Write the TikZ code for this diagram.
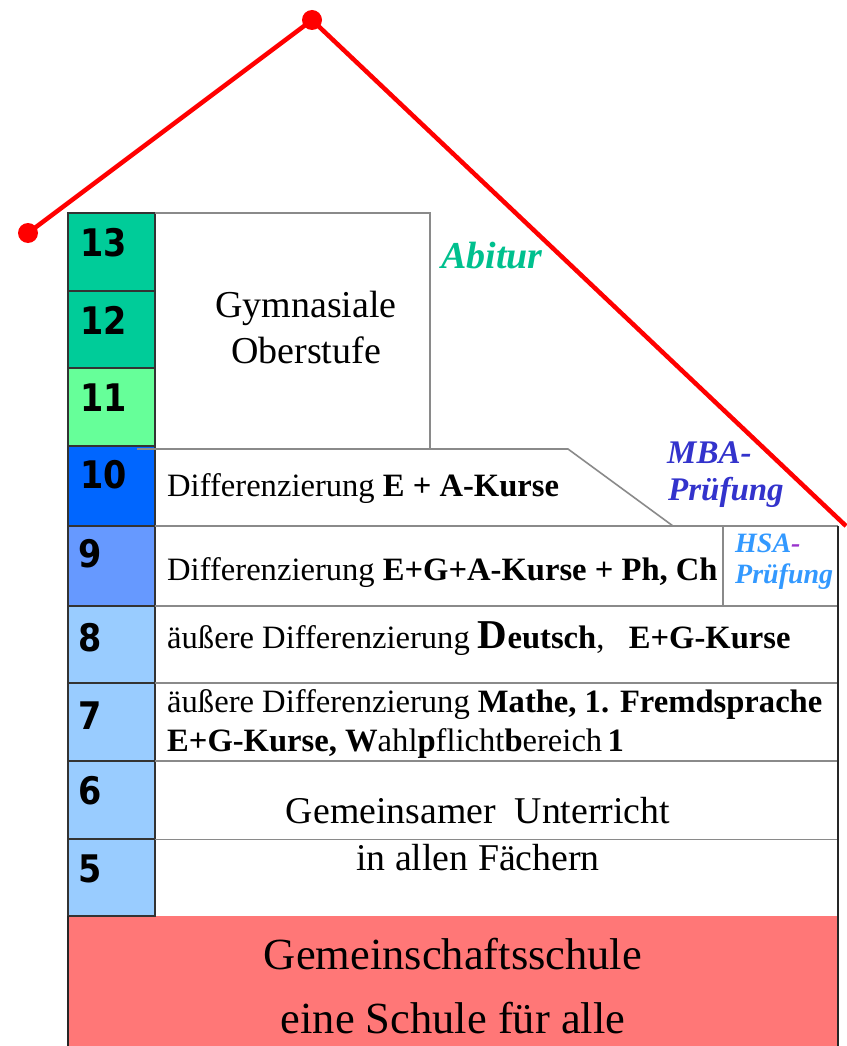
\documentclass[tikz,border=0pt]{standalone}
\usepackage{fontspec}
\setmainfont{Liberation Serif}
\newfontfamily\numfont[FakeStretch=0.88]{DejaVu Sans}
\definecolor{teal13}{HTML}{00CC99}
\definecolor{green11}{HTML}{66FF99}
\definecolor{blue10}{HTML}{0066FF}
\definecolor{blue9}{HTML}{6699FF}
\definecolor{blueL}{HTML}{99CCFF}
\definecolor{redbox}{HTML}{FF7777}
\definecolor{abiturc}{HTML}{00C08E}
\definecolor{mbac}{HTML}{3333CC}
\definecolor{hsac}{HTML}{3399FF}
\definecolor{hsadash}{HTML}{9933CC}
\definecolor{linegray}{HTML}{8A8A8A}
\definecolor{roofred}{HTML}{FF0000}
\begin{document}
\begin{tikzpicture}[x=1pt,y=-1pt,
  numcell/.style={draw=black!80,line width=2.5pt},
  grayline/.style={draw=linegray,line width=1.6pt},
  darkline/.style={draw=black!85,line width=2.8pt},
  num/.style={anchor=base west,inner sep=0pt,font=\numfont\bfseries\fontsize{38}{40}\selectfont},
  rowtext/.style={anchor=base west,inner sep=0pt,font=\fontsize{32.6}{38}\selectfont},
  bigtext/.style={inner sep=0pt,align=center},
  roof/.style={draw=roofred,line width=4.5pt},
  roofdot/.style={fill=roofred,circle,inner sep=0pt,minimum size=20pt}]
\useasboundingbox (0,0) rectangle (846,1046);
% bottom red box
\fill[redbox] (68,916) rectangle (838,1046);
% number column
\filldraw[numcell,fill=teal13] (68,213) rectangle (155,291);
\filldraw[numcell,fill=teal13] (68,291) rectangle (155,368);
\filldraw[numcell,fill=green11] (68,368) rectangle (155,446);
\filldraw[numcell,fill=blue10] (68,446) rectangle (155,526);
\filldraw[numcell,fill=blue9] (68,526) rectangle (155,606);
\filldraw[numcell,fill=blueL] (68,606) rectangle (155,683);
\filldraw[numcell,fill=blueL] (68,683) rectangle (155,761);
\filldraw[numcell,fill=blueL] (68,761) rectangle (155,839);
\filldraw[numcell,fill=blueL] (68,839) rectangle (155,916);
% gymnasiale box
\draw[grayline] (155,213) -- (430,213) -- (430,449);
% row 10 with slant
\draw[grayline] (137,449) -- (568,449) -- (673,526);
% rows
\draw[grayline] (155,526) -- (838,526);
\draw[grayline] (723,526) -- (723,606);
\draw[grayline] (155,606) -- (838,606);
\draw[grayline] (155,683) -- (838,683);
\draw[grayline] (155,761) -- (838,761);
\draw[grayline,line width=1pt] (155,839) -- (838,839);
% outer borders
\draw[darkline] (68,916) -- (68,1046);
\draw[darkline] (838,526) -- (838,1046);
% numbers
\node[num] (n13) at (80,256) {13};
\node[num] (n12) at (80,334) {12};
\node[num] (n11) at (80,411) {11};
\node[num] (n10) at (80,488) {10};
\node[num] (n9) at (78,567) {9};
\node[num] (n8) at (78,651) {8};
\node[num] (n7) at (78,729) {7};
\node[num] (n6) at (78,804) {6};
\node[num] (n5) at (78,882) {5};
% texts
\node[bigtext,font=\fontsize{38}{46}\selectfont] (gym) at (306,327) {Gymnasiale\\Oberstufe};
\node[rowtext] (t10) at (167,496) {Differenzierung \textbf{E + A-Kurse}};
\node[rowtext] (t9) at (167,580) {Differenzierung \textbf{E+G+A-Kurse + Ph, Ch}};
\node[rowtext] (t8) at (167,648) {äußere Differenzierung \textbf{{\fontsize{41}{41}\selectfont D}eutsch},\ \ \ \textbf{E+G-Kurse}};
\node[rowtext] (t7a) at (167,712) {äußere Differenzierung \textbf{Mathe, 1. Fremdsprache}};
\node[rowtext] (t7b) at (167,751) {\textbf{E+G-Kurse, W}ahl\textbf{p}flicht\textbf{b}ereich\,\textbf{1}};
\node[bigtext,font=\fontsize{37.8}{47}\selectfont] (gem) at (478,834) {Gemeinsamer\ \ Unterricht\\in allen Fächern};
\node[bigtext,font=\fontsize{44.5}{64}\selectfont] (gs) at (453,986) {Gemeinschaftsschule\\eine Schule für alle};
% exam labels
\node[anchor=base west,inner sep=0pt,text=abiturc,font=\bfseries\itshape\fontsize{38}{40}\selectfont] (abi) at (441,268) {Abitur};
\node[anchor=base west,inner sep=0pt,text=mbac,font=\bfseries\itshape\fontsize{33}{37}\selectfont] (mba) at (667,463) {MBA-};
\node[anchor=base west,inner sep=0pt,text=mbac,font=\bfseries\itshape\fontsize{33}{37}\selectfont] (mbap) at (668,500) {Prüfung};
\node[anchor=base west,inner sep=0pt,text=hsac,font=\bfseries\itshape\fontsize{28}{30}\selectfont] (hsa) at (735,552) {HSA\textcolor{hsadash}{-}};
\node[anchor=base west,inner sep=0pt,text=hsac,font=\bfseries\itshape\fontsize{28}{30}\selectfont] (hsap) at (735,583) {Prüfung};
% roof
\coordinate (roofR) at (846,526);
\node[roofdot] (roofL) at (28,233) {};
\node[roofdot] (apex) at (312,20) {};
\draw[roof] (roofL.center) -- (apex.center) -- (roofR);
\end{tikzpicture}
\end{document}
